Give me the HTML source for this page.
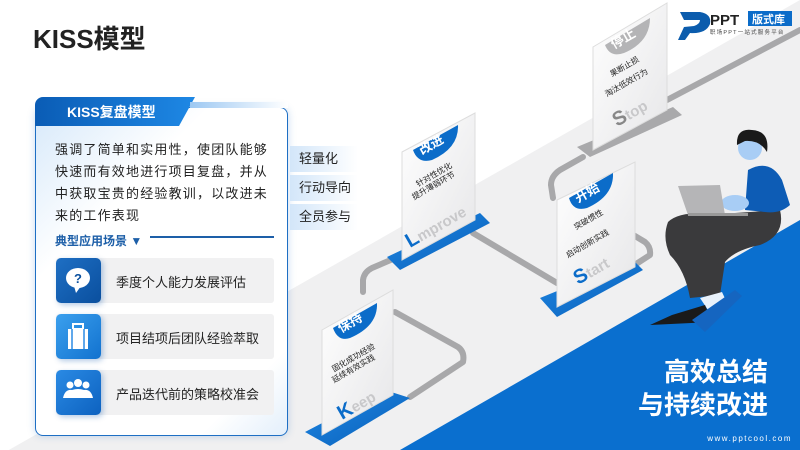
<!DOCTYPE html>
<html><head><meta charset="utf-8"><style>
*{margin:0;padding:0;box-sizing:border-box}
body{width:800px;height:450px;overflow:hidden;background:#fff;font-family:"Liberation Sans","Noto Sans CJK SC",sans-serif;position:relative}
.abs{position:absolute}
svg{position:absolute;left:0;top:0}
</style></head><body>
<svg width="800" height="450" viewBox="0 0 800 450">
<defs>
<linearGradient id="card" x1="0" y1="0" x2="1" y2="1"><stop offset="0" stop-color="#ffffff"/><stop offset="1" stop-color="#e6e6e8"/></linearGradient>
<linearGradient id="blu" x1="0" y1="0" x2="1" y2="1"><stop offset="0" stop-color="#1e88e5"/><stop offset="1" stop-color="#0a5fb8"/></linearGradient>
</defs>
<polygon points="0,455 800,0 800,450 0,450" fill="#f0f0f1"/>
<polygon points="400,450 800,220 800,450" fill="#0a6fcf"/>
<g fill="none" stroke="#a8a8aa" stroke-width="6" stroke-linecap="round" stroke-linejoin="round">
<path d="M395,312 L458,347 Q465,352 463,362 L410,397"/>
<path d="M363,292 L363,280 Q364,272 372,268 L400,256"/>
<path d="M473,233 L557,283"/>
<path d="M630,233 L645,242 Q651,247 650,255 L630,268"/>
<path d="M553,198 L551,185 Q551,176 560,170 L583,157"/>
<path d="M667,100 L800,30"/>
</g>
<polygon points="305,432 385,390 410,398 330,446" fill="url(#blu)"/>
<polygon points="387,257 480,213 490,223 400,270" fill="url(#blu)"/>
<polygon points="540,298 633,260 643,270 557,317" fill="url(#blu)"/>
<polygon points="577,147 673,107 682,115 590,157" fill="#a9a9ab"/>
<polygon points="322,330 393,290 393,395 322,435" fill="url(#card)" stroke="#ddd"/>
<polygon points="402,152 475,113 475,220 402,260" fill="url(#card)" stroke="#ddd"/>
<polygon points="557,200 635,162 635,267 557,307" fill="url(#card)" stroke="#ddd"/>
<polygon points="593,47 667,3 667,110 593,150" fill="url(#card)" stroke="#ddd"/>
<path d="M333,328 L377,303 Q378,326 350,338 Q338,342 333,328Z" fill="#0b6cc9"/>
<path d="M413,150 L458,125 Q459,148 432,160 Q418,164 413,150Z" fill="#0b6cc9"/>
<path d="M569,198 L613,173 Q614,196 587,208 Q573,212 569,198Z" fill="#0b6cc9"/>
<path d="M605,45 L650,18 Q650,42 624,53 Q610,58 605,45Z" fill="#b4b4b6"/>
<g font-weight="bold" fill="#fff" font-size="13">
<text transform="translate(341,333) rotate(-30)">保持</text>
<text transform="translate(422,155) rotate(-30)">改进</text>
<text transform="translate(578,203) rotate(-30)">开始</text>
<text transform="translate(614,49) rotate(-30)">停止</text>
</g>
<g font-size="8" fill="#222">
<text transform="translate(334,372) rotate(-30)">固化成功经验</text>
<text transform="translate(334,383) rotate(-30)">延续有效实践</text>
<text transform="translate(418,187) rotate(-30)">针对性优化</text>
<text transform="translate(414,200) rotate(-30)">提升薄弱环节</text>
<text transform="translate(576,230) rotate(-30)">突破惯性</text>
<text transform="translate(568,258) rotate(-30)">启动创新实践</text>
<text transform="translate(612,77) rotate(-30)">果断止损</text>
<text transform="translate(607,97) rotate(-30)">淘汰低效行为</text>
</g>
<g font-weight="bold" font-size="20">
<text transform="translate(342,420) rotate(-30)" fill="#0b6cc9">K<tspan fill="#c8c8ca" font-size="15">eep</tspan></text>
<text transform="translate(410,248) rotate(-30)" fill="#0b6cc9">L<tspan fill="#c8c8ca" font-size="15">mprove</tspan></text>
<text transform="translate(578,285) rotate(-30)" fill="#0b6cc9">S<tspan fill="#c8c8ca" font-size="15">tart</tspan></text>
<text transform="translate(617,127) rotate(-30)" fill="#888">S<tspan fill="#c8c8ca" font-size="15">top</tspan></text>
</g>
<!-- person -->
<path d="M668,222 Q680,210 720,214 L780,210 Q786,235 760,245 Q735,250 725,262 L720,295 L690,298 Q685,270 670,255 Q662,238 668,222Z" fill="#3a3a3c"/>
<polygon points="700,298 722,292 728,305 708,310" fill="#e8f1fb"/>
<polygon points="672,315 705,305 712,322 650,325" fill="#1a1a1a"/>
<polygon points="692,320 735,290 742,296 705,332" fill="#1565c0"/>
<path d="M748,170 Q770,158 782,180 L790,205 Q780,214 765,212 L745,210Z" fill="#0d5cb5"/>
<ellipse cx="735" cy="203" rx="14" ry="8" fill="#a8cdf5"/>
<polygon points="678,186 720,185 725,215 688,215" fill="#b5b5b7"/>
<rect x="688" y="213" width="60" height="3" fill="#999"/>
<circle cx="750" cy="148" r="12" fill="#a8cdf5"/>
<path d="M737,145 Q736,128 752,130 Q770,131 767,152 Q760,140 745,141Z" fill="#1a1a1a"/>
<!-- logo -->
<path d="M680,12 L700,12 Q712,14 710,24 Q706,34 690,33 L685,40 L678,40 L684,27 L694,26 Q700,24 700,20 L684,20Z" fill="#0b5cad"/>
<text x="710" y="25" font-size="15" font-weight="bold" fill="#222">PPT</text>
<rect x="748" y="11" width="44" height="15" fill="#0b6cc9"/>
<text x="752" y="23" font-size="11" font-weight="bold" fill="#fff">版式库</text>
<text x="710" y="34" font-size="5.5" fill="#444" letter-spacing="1.2">职场PPT一站式服务平台</text>
</svg>

<div class="abs" style="left:33px;top:19px;font-size:26px;font-weight:bold;color:#222">KISS模型</div>

<div class="abs" style="left:35px;top:107px;width:253px;height:329px;border:1.5px solid #1e6fc4;border-radius:8px;background:linear-gradient(135deg,#d7e9fa 0%,#fff 30%,#fff 85%,#e3effb 100%);box-shadow:0 0 8px rgba(30,110,200,.25)"></div>
<div class="abs" style="left:35px;top:97px;width:160px;height:29px;background:linear-gradient(90deg,#0a5cb5,#1e88e5);clip-path:polygon(0 0,100% 0,90% 100%,0 100%);border-top-left-radius:8px"></div>
<div class="abs" style="left:190px;top:102px;width:98px;height:6px;background:linear-gradient(90deg,#9cc8f2,#fff)"></div>
<div class="abs" style="left:67px;top:102px;font-size:14px;font-weight:bold;color:#fff">KISS复盘模型</div>
<div class="abs" style="left:55px;top:139px;width:218px;font-size:13px;line-height:22px;color:#222;letter-spacing:1.2px">强调了简单和实用性，使团队能够快速而有效地进行项目复盘，并从中获取宝贵的经验教训，以改进未来的工作表现</div>

<div class="abs" style="left:290px;top:146px;width:68px;height:26px;background:linear-gradient(90deg,#d3e6f9,#fff);font-size:13px;line-height:26px;padding-left:9px;color:#222">轻量化</div>
<div class="abs" style="left:290px;top:175px;width:68px;height:26px;background:linear-gradient(90deg,#d3e6f9,#fff);font-size:13px;line-height:26px;padding-left:9px;color:#222">行动导向</div>
<div class="abs" style="left:290px;top:204px;width:68px;height:26px;background:linear-gradient(90deg,#d3e6f9,#fff);font-size:13px;line-height:26px;padding-left:9px;color:#222">全员参与</div>

<div class="abs" style="left:55px;top:232px;font-size:12px;font-weight:bold;color:#1d5fa8">典型应用场景 ▼</div>
<div class="abs" style="left:150px;top:236px;width:124px;height:1.5px;background:#1d5fa8"></div>

<div class="abs" style="left:56px;top:258px;width:218px;height:45px;background:#f1f1f2;border-radius:3px"></div>
<div class="abs" style="left:56px;top:314px;width:218px;height:45px;background:#f1f1f2;border-radius:3px"></div>
<div class="abs" style="left:56px;top:370px;width:218px;height:45px;background:#f1f1f2;border-radius:3px"></div>
<div class="abs" style="left:56px;top:258px;width:45px;height:45px;background:linear-gradient(135deg,#1e6fc4,#0a4f9e);border-radius:5px;box-shadow:2px 2px 6px rgba(0,80,170,.3)"></div>
<div class="abs" style="left:56px;top:314px;width:45px;height:45px;background:linear-gradient(135deg,#3ba0ee,#1272cf);border-radius:5px;box-shadow:2px 2px 6px rgba(0,80,170,.3)"></div>
<div class="abs" style="left:56px;top:370px;width:45px;height:45px;background:linear-gradient(135deg,#2a8ae4,#0d62c0);border-radius:5px;box-shadow:2px 2px 6px rgba(0,80,170,.3)"></div>
<svg width="800" height="450" style="pointer-events:none">
<ellipse cx="78" cy="278" rx="12" ry="10" fill="#fff"/><path d="M74,286 L76,293 L81,286Z" fill="#fff"/>
<text x="74" y="283" font-size="13" font-weight="bold" fill="#0a4f9e">?</text>
<rect x="68" y="329" width="20" height="20" fill="#fff"/><rect x="73" y="324" width="10" height="5" fill="none" stroke="#fff" stroke-width="2"/>
<line x1="72" y1="329" x2="72" y2="349" stroke="#2a8ae4" stroke-width="1.5"/><line x1="84" y1="329" x2="84" y2="349" stroke="#2a8ae4" stroke-width="1.5"/>
<circle cx="70" cy="385" r="3.5" fill="#fff"/><circle cx="78" cy="383" r="4" fill="#fff"/><circle cx="86" cy="385" r="3.5" fill="#fff"/>
<path d="M63,398 Q65,389 72,390 Q78,388 84,390 Q91,389 93,398Z" fill="#fff"/>
</svg>
<div class="abs" style="left:116px;top:272px;font-size:13px;color:#222">季度个人能力发展评估</div>
<div class="abs" style="left:116px;top:328px;font-size:13px;color:#222">项目结项后团队经验萃取</div>
<div class="abs" style="left:116px;top:384px;font-size:13px;color:#222">产品迭代前的策略校准会</div>

<div class="abs" style="right:32px;top:356px;font-size:26px;font-weight:bold;color:#fff;text-align:right;line-height:33px">高效总结<br>与持续改进</div>
<div class="abs" style="right:8px;top:434px;font-size:8px;color:#fff;letter-spacing:1.5px">www.pptcool.com</div>
</body></html>
